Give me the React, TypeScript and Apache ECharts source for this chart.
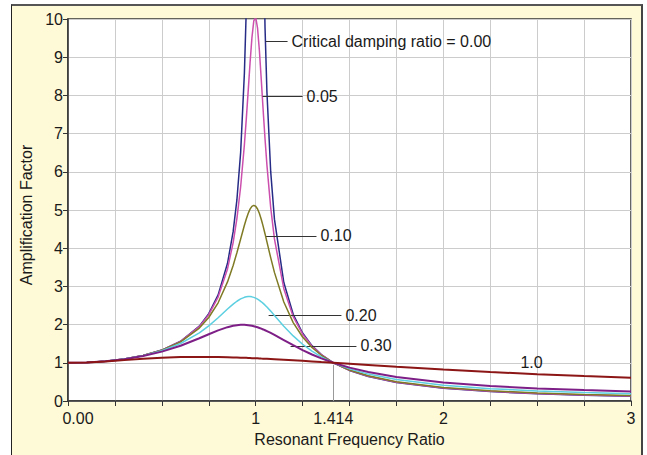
import React, { useEffect, useRef } from "react";
import * as echarts from "echarts";

const FONT = "'Liberation Sans', Arial, Helvetica, sans-serif";

// Resonant frequency ratio (x) sample points
const ratios = [0, 0.1, 0.2, 0.3, 0.4, 0.5, 0.6, 0.7, 0.75, 0.8, 0.85, 0.88, 0.9, 0.92, 0.94, 0.95, 0.96, 0.97, 0.98, 0.99, 1.0, 1.01, 1.02, 1.03, 1.04, 1.05, 1.06, 1.08, 1.1, 1.15, 1.2, 1.25, 1.3, 1.35, 1.414, 1.5, 1.6, 1.75, 2.0, 2.25, 2.5, 2.75, 3.0];

// Amplification factor per damping ratio
const damp000 = [1.0, 1.01, 1.042, 1.099, 1.19, 1.333, 1.563, 1.961, 2.286, 2.778, 3.604, 4.433, 5.263, 6.51, 8.59, 10.26, 12.76, 16.92, 25.25, 50.25, null, 49.75, 24.75, 16.42, 12.25, 9.76, 8.09, 6.01, 4.76, 3.1, 2.27, 1.78, 1.45, 1.216, 1.0, 0.8, 0.641, 0.485, 0.333, 0.246, 0.19, 0.152, 0.125];
const damp005 = [1.0, 1.01, 1.042, 1.099, 1.19, 1.332, 1.559, 1.947, 2.259, 2.72, 3.458, 4.146, 4.776, 5.609, 6.713, 7.379, 8.105, 8.845, 9.506, 9.951, 10.05, 9.76, 9.162, 8.401, 7.606, 6.853, 6.176, 5.07, 4.244, 2.94, 2.208, 1.749, 1.436, 1.211, 1.0, 0.803, 0.646, 0.491, 0.339, 0.252, 0.196, 0.158, 0.13];
const damp010 = [1.0, 1.01, 1.042, 1.099, 1.189, 1.328, 1.547, 1.909, 2.186, 2.571, 3.117, 3.549, 3.882, 4.242, 4.602, 4.766, 4.91, 5.023, 5.096, 5.123, 5.099, 5.026, 4.908, 4.753, 4.571, 4.373, 4.166, 3.752, 3.367, 2.591, 2.052, 1.675, 1.401, 1.197, 1.0, 0.812, 0.659, 0.506, 0.356, 0.268, 0.212, 0.173, 0.145];
const damp020 = [1.0, 1.01, 1.041, 1.097, 1.184, 1.314, 1.505, 1.785, 1.968, 2.18, 2.407, 2.536, 2.611, 2.672, 2.714, 2.727, 2.733, 2.733, 2.726, 2.713, 2.693, 2.666, 2.634, 2.597, 2.555, 2.509, 2.459, 2.353, 2.241, 1.959, 1.704, 1.486, 1.305, 1.155, 1.0, 0.841, 0.704, 0.56, 0.413, 0.323, 0.265, 0.223, 0.193];
const damp030 = [1.0, 1.01, 1.041, 1.095, 1.177, 1.293, 1.447, 1.642, 1.747, 1.849, 1.933, 1.97, 1.985, 1.994, 1.994, 1.991, 1.985, 1.978, 1.968, 1.957, 1.944, 1.929, 1.912, 1.893, 1.873, 1.852, 1.829, 1.781, 1.73, 1.595, 1.46, 1.333, 1.218, 1.115, 1.0, 0.873, 0.757, 0.627, 0.483, 0.392, 0.33, 0.285, 0.251];
const damp100 = [1.0, 1.01, 1.036, 1.07, 1.104, 1.131, 1.149, 1.155, 1.154, 1.151, 1.145, 1.141, 1.138, 1.134, 1.131, 1.129, 1.127, 1.125, 1.122, 1.12, 1.118, 1.116, 1.114, 1.111, 1.109, 1.106, 1.104, 1.099, 1.094, 1.08, 1.066, 1.051, 1.036, 1.02, 1.0, 0.973, 0.942, 0.896, 0.825, 0.76, 0.703, 0.653, 0.608];

const curveNames = ["0.00", "0.05", "0.10", "0.20", "0.30", "1.0"];
const curveValues = [damp000, damp005, damp010, damp020, damp030, damp100];
const curveColors = ["#262b86", "#cc4fae", "#7f7a24", "#5ccfe0", "#7d1f86", "#8c1515"];
const curveWidths = [1.5, 1.5, 1.5, 1.5, 2, 2];

// Tick labels on the x axis
const xLabelValues = [0, 1, 1.414, 2, 3];
const xLabelTexts = ["0.00", "1", "1.414", "2", "3"];

// Leader-line annotations (data coordinates)
const annotationTexts = ["Critical damping ratio = 0.00", "0.05", "0.10", "0.20", "0.30"];
const annotationStartX = [1.053, 1.037, 1.053, 1.069, 1.186];
const annotationEndX = [1.17, 1.25, 1.324, 1.457, 1.537];
const annotationY = [9.42, 7.98, 4.32, 2.25, 1.44];

const freeLabelText = "1.0";
const freeLabelPoint = [2.47, 1.02];

const sqrt2Marker = [1.414, 0, 0.95];

export default function App() {
  const ref = useRef<HTMLDivElement>(null);

  useEffect(() => {
    if (!ref.current) return;
    const chart = echarts.init(ref.current, null, { renderer: "svg" });

    const curveSeries = curveValues.map((vals, k) => ({
      type: "line",
      name: curveNames[k],
      data: ratios.map((x, i) => [x, vals[i] === null ? "-" : vals[i]]),
      showSymbol: false,
      symbol: "none",
      smooth: false,
      connectNulls: false,
      clip: true,
      lineStyle: { color: curveColors[k], width: curveWidths[k] },
      itemStyle: { color: curveColors[k] },
      silent: true,
      z: 3 + k,
    }));

    const option: any = {
      animation: false,
      backgroundColor: "transparent",
      textStyle: { fontFamily: FONT },
      grid: {
        left: 68,
        top: 19,
        right: 16,
        bottom: 54,
        show: true,
        backgroundColor: "#ffffff",
        borderColor: "#333333",
        borderWidth: 1.5,
        containLabel: false,
      },
      xAxis: {
        type: "value",
        min: 0,
        max: 3,
        interval: 0.25,
        name: "Resonant Frequency Ratio",
        nameLocation: "middle",
        nameGap: 30,
        nameTextStyle: { fontSize: 16, color: "#1a1a1a", fontFamily: FONT },
        axisLine: { show: true, lineStyle: { color: "#333333", width: 1.5 } },
        axisTick: { show: true, length: 5, lineStyle: { color: "#333333", width: 1 } },
        splitLine: { show: true, lineStyle: { color: "#cccccc", width: 1 } },
        axisLabel: {
          customValues: xLabelValues,
          fontSize: 16,
          color: "#1a1a1a",
          fontFamily: FONT,
          margin: 9,
          formatter: (v: number) => {
            const idx = xLabelValues.findIndex((t) => Math.abs(t - v) < 1e-6);
            const txt = idx >= 0 ? xLabelTexts[idx] : "";
            return idx === 0 ? "{first|" + txt + "}" : txt;
          },
          rich: {
            first: { fontSize: 16, color: "#1a1a1a", fontFamily: FONT, padding: [0, 0, 0, 20] },
          },
        },
      },
      yAxis: {
        type: "value",
        min: 0,
        max: 10,
        interval: 1,
        name: "Amplification Factor",
        nameLocation: "middle",
        nameRotate: 90,
        nameGap: 33,
        nameTextStyle: { fontSize: 16, color: "#1a1a1a", fontFamily: FONT, padding: [0, 10, 0, 0] },
        axisLine: { show: true, lineStyle: { color: "#333333", width: 1.5 } },
        axisTick: { show: true, length: 5, lineStyle: { color: "#333333", width: 1 } },
        splitLine: { show: true, lineStyle: { color: "#cccccc", width: 1 } },
        axisLabel: { fontSize: 16, color: "#1a1a1a", fontFamily: FONT, margin: 5 },
      },
      series: [
        {
          type: "line",
          data: [],
          silent: true,
          z: 2,
          markLine: {
            silent: true,
            symbol: ["none", "none"],
            animation: false,
            lineStyle: { color: "#999999", width: 1, type: "solid" },
            label: { show: false },
            data: [[{ coord: [sqrt2Marker[0], sqrt2Marker[1]] }, { coord: [sqrt2Marker[0], sqrt2Marker[2]] }]],
          },
        },
        ...curveSeries,
        {
          type: "line",
          data: [],
          silent: true,
          z: 20,
          markLine: {
            silent: true,
            symbol: ["none", "none"],
            animation: false,
            lineStyle: { color: "#333333", width: 1, type: "solid" },
            label: {
              show: true,
              position: "end",
              distance: 4,
              formatter: "{b}",
              fontSize: 16,
              color: "#1a1a1a",
              fontFamily: FONT,
            },
            data: annotationTexts.map((t, i) => [
              { name: t, coord: [annotationStartX[i], annotationY[i]] },
              { coord: [annotationEndX[i], annotationY[i]] },
            ]),
          },
        },
      ],
    };

    chart.setOption(option);

    const p = chart.convertToPixel({ gridIndex: 0 }, freeLabelPoint) as number[];
    chart.setOption({
      graphic: [
        {
          type: "text",
          x: p[0],
          y: p[1],
          z: 100,
          silent: true,
          style: {
            text: freeLabelText,
            fill: "#1a1a1a",
            font: "16px " + FONT,
            align: "center",
            verticalAlign: "middle",
          },
        },
      ],
    });

    return () => chart.dispose();
  }, []);

  return (
    <div style={{ position: "fixed", left: 0, top: 0, width: 647, height: 455, background: "#ffffff", overflow: "hidden" }}>
      <div
        style={{
          position: "absolute",
          left: 11,
          top: 4,
          width: 629,
          height: 470,
          background: "#fef9d6",
          borderTop: "2px solid #555555",
          borderLeft: "1px solid #222222",
          borderRight: "2px solid #444444",
        }}
      />
      <div ref={ref} style={{ position: "absolute", left: 0, top: 0, width: 647, height: 455 }} />
    </div>
  );
}
